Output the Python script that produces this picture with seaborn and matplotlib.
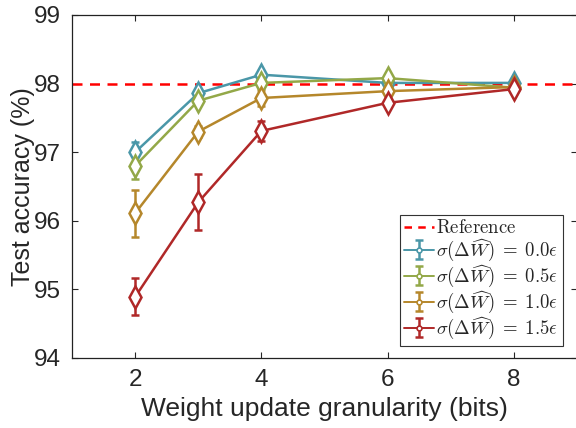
import numpy as np
import pandas as pd
import matplotlib
matplotlib.use("Agg")
import matplotlib.pyplot as plt
from matplotlib.lines import Line2D
import seaborn as sns

# data
bits = [2, 3, 4, 6, 8]
sigmas = ["0.0", "0.5", "1.0", "1.5"]
acc_00 = [97.00, 97.86, 98.13, 98.01, 98.01]
acc_05 = [96.80, 97.75, 98.01, 98.08, 97.94]
acc_10 = [96.11, 97.30, 97.79, 97.89, 97.95]
acc_15 = [94.89, 96.27, 97.31, 97.72, 97.92]
err_00 = [0.15, 0.06, 0.04, 0.03, 0.03]
err_05 = [0.19, 0.06, 0.04, 0.03, 0.03]
err_10 = [0.34, 0.08, 0.12, 0.03, 0.03]
err_15 = [0.27, 0.41, 0.15, 0.06, 0.05]
reference = 98.0
colors = ["#4a97a8", "#93a848", "#b5872b", "#b02828"]

rows = []
for s, a, e in zip(sigmas, [acc_00, acc_05, acc_10, acc_15], [err_00, err_05, err_10, err_15]):
    for b, v, ee in zip(bits, a, e):
        rows.append({"bits": b, "acc": v, "err": ee, "sigma": s})
df = pd.DataFrame(rows)

sns.set_style("ticks")
plt.rcParams["font.family"] = ["Liberation Sans", "DejaVu Sans"]
plt.rcParams["mathtext.fontset"] = "cm"

fig = plt.figure(figsize=(5.76, 4.28), dpi=100)
ax = fig.add_axes([72 / 576, 1 - 358 / 428, 505 / 576, 343 / 428])

ax.axhline(reference, color="#ff0000", lw=1.8, ls=(0, (4, 3)), zorder=1)

sns.lineplot(data=df, x="bits", y="acc", hue="sigma", palette=colors,
             marker="d", markersize=11, markerfacecolor="white",
             markeredgewidth=1.8, lw=1.8, legend=False, ax=ax, zorder=3)
for line, c in zip(ax.lines[1:], colors):
    line.set_markeredgecolor(c)

handles = []
for s, c in zip(sigmas, colors):
    sub = df[df["sigma"] == s]
    eb = ax.errorbar(sub["bits"], sub["acc"], yerr=sub["err"], fmt="none",
                     ecolor=c, elinewidth=1.8, capsize=3, capthick=1.8, zorder=2)
    proxy = Line2D([], [], color=c, lw=1.4, marker="o", ms=3.5,
                   mfc="white", mec=c, mew=1.2)
    handles.append((eb, proxy))

ref_handle = Line2D([], [], color="#ff0000", lw=1.8, ls=(0, (3, 2.5)))
labels = [r"$\mathrm{Reference}$"] + [r"$\sigma(\Delta\widehat{W})\;=\;%s\epsilon$" % s for s in sigmas]
leg = ax.legend([ref_handle] + handles, labels, loc="lower right",
                bbox_to_anchor=(0.972, 0.035), borderaxespad=0, fontsize=13.5,
                frameon=True, fancybox=False, framealpha=1, edgecolor="#333333",
                handlelength=1.6, handletextpad=0.1, labelspacing=0.0,
                borderpad=0.25)
leg.get_frame().set_linewidth(0.8)

ax.set_xlim(1, 9)
ax.set_ylim(94, 99)
ax.set_xticks([2, 4, 6, 8])
ax.set_yticks([94, 95, 96, 97, 98, 99])
ax.tick_params(direction="in", top=True, right=True, length=4, width=0.8,
               labelsize=17.5, pad=8)
for sp in ax.spines.values():
    sp.set_linewidth(0.9)
    sp.set_color("#222222")
ax.set_xlabel("Weight update granularity (bits)", fontsize=19, labelpad=4)
ax.set_ylabel("Test accuracy (%)", fontsize=18, labelpad=-1)

fig.savefig("out.png", dpi=100)
